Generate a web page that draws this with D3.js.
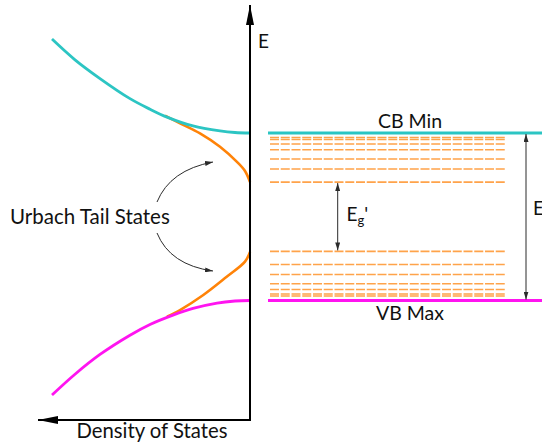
<!DOCTYPE html>
<html>
<head>
<meta charset="utf-8">
<script src="https://cdn.jsdelivr.net/npm/d3@7"></script>
<style>
  html, body { margin: 0; padding: 0; background: #fff; }
  svg { display: block; }
  text { font-family: Lato, "Open Sans", sans-serif; fill: #111; }
</style>
</head>
<body>
<svg id="chart" width="542" height="443"></svg>
<script>
// Density of states (arbitrary units) vs. energy (VB max = 0, CB min = 1)
const cbDos   = [[0, 1.0], [15, 1.003], [30, 1.0125], [57, 1.042], [83, 1.095], [100, 1.142], [120, 1.205], [150, 1.325], [175, 1.437], [198, 1.561]];
const vbDos   = [[0, 0.0], [15, -0.003], [33, -0.015], [57, -0.047], [77, -0.087], [100, -0.143], [120, -0.207], [150, -0.322], [175, -0.44], [198, -0.564]];
const cbTail  = [[85, 1.103], [70, 1.058], [50, 0.998], [30, 0.918], [13.3, 0.829], [5, 0.773], [0, 0.707]];
const vbTail  = [[83, -0.097], [70, -0.057], [46.7, 0.033], [23.3, 0.142], [5, 0.232], [0, 0.29]];

// Localised tail-state energy levels below the CB and above the VB
const cbTailLevels = [0.973, 0.961, 0.934, 0.900, 0.845, 0.785, 0.707];
const vbTailLevels = [0.027, 0.039, 0.066, 0.100, 0.155, 0.215, 0.293];

const bandEdges = { cb: 1.0, vb: 0.0 };

const svg = d3.select("#chart");

const x = d3.scaleLinear().domain([0, 200]).range([250, 50]);   // density grows to the left
const y = d3.scaleLinear().domain([0, 1]).range([300.5, 133]);   // energy

const colors = { cb: "#2cc5c3", vb: "#ff14f0", tail: "#ff8308", level: "#ffa34a", arrow: "#2b2b2b" };

// arrowhead markers
const defs = svg.append("defs");
function marker(id, w, h, color) {
  defs.append("marker")
    .attr("id", id).attr("viewBox", `0 0 ${w} ${h}`)
    .attr("refX", w).attr("refY", h / 2)
    .attr("markerWidth", w).attr("markerHeight", h)
    .attr("markerUnits", "userSpaceOnUse")
    .attr("orient", "auto-start-reverse")
    .append("path").attr("d", `M0,0L${w},${h / 2}L0,${h}Z`).attr("fill", color);
}
marker("axisHead", 20, 8, "#000");
marker("thinHead", 8, 5, colors.arrow);

// ---- DOS curves ----
const line = d3.line().x(d => x(d[0])).y(d => y(d[1])).curve(d3.curveCatmullRom.alpha(0.5));

svg.append("path").datum(cbTail).attr("d", line)
  .attr("fill", "none").attr("stroke", colors.tail).attr("stroke-width", 2.6);
svg.append("path").datum(vbTail).attr("d", line)
  .attr("fill", "none").attr("stroke", colors.tail).attr("stroke-width", 2.6);
svg.append("path").datum(cbDos).attr("d", line)
  .attr("fill", "none").attr("stroke", colors.cb).attr("stroke-width", 2.8);
svg.append("path").datum(vbDos).attr("d", line)
  .attr("fill", "none").attr("stroke", colors.vb).attr("stroke-width", 2.8);

// ---- axes ----
const x0 = x(0), yBase = 420;
svg.append("line").attr("x1", x0).attr("y1", yBase + 1).attr("x2", x0).attr("y2", 5)
  .attr("stroke", "#000").attr("stroke-width", 2).attr("marker-end", "url(#axisHead)");
svg.append("line").attr("x1", x0 + 1).attr("y1", yBase).attr("x2", 38).attr("y2", yBase)
  .attr("stroke", "#000").attr("stroke-width", 2).attr("marker-end", "url(#axisHead)");

svg.append("text").attr("x", 258).attr("y", 48).attr("font-size", 19).text("E");
svg.append("text").attr("x", 152).attr("y", 438).attr("text-anchor", "middle")
  .attr("font-size", 20.3).text("Density of States");

// ---- Urbach tail annotation ----
svg.append("text").attr("x", 10).attr("y", 224).attr("font-size", 20.5).text("Urbach Tail States");
svg.append("path").attr("d", "M157,202 Q170,170 213,162")
  .attr("fill", "none").attr("stroke", colors.arrow).attr("stroke-width", 1)
  .attr("marker-end", "url(#thinHead)");
svg.append("path").attr("d", "M157,233 Q170,265 213,271")
  .attr("fill", "none").attr("stroke", colors.arrow).attr("stroke-width", 1)
  .attr("marker-end", "url(#thinHead)");

// ---- band diagram ----
const bx0 = 268, bx1 = 545, lx0 = 270, lx1 = 506;

svg.selectAll("line.level")
  .data(cbTailLevels.concat(vbTailLevels))
  .join("line").attr("class", "level")
  .attr("x1", lx0).attr("x2", lx1)
  .attr("y1", d => y(d)).attr("y2", d => y(d))
  .attr("stroke", colors.level).attr("stroke-width", 1.6)
  .attr("stroke-dasharray", "9,1.75");

svg.append("line").attr("x1", bx0).attr("x2", bx1)
  .attr("y1", y(bandEdges.cb)).attr("y2", y(bandEdges.cb))
  .attr("stroke", colors.cb).attr("stroke-width", 2.8);
svg.append("line").attr("x1", bx0).attr("x2", bx1)
  .attr("y1", y(bandEdges.vb)).attr("y2", y(bandEdges.vb))
  .attr("stroke", colors.vb).attr("stroke-width", 2.8);

svg.append("text").attr("x", 410).attr("y", 128).attr("text-anchor", "middle")
  .attr("font-size", 19.5).text("CB Min");
svg.append("text").attr("x", 410).attr("y", 320).attr("text-anchor", "middle")
  .attr("font-size", 19.5).text("VB Max");

// gap arrows
function gapArrow(xp, eTop, eBot) {
  svg.append("line").attr("x1", xp).attr("x2", xp)
    .attr("y1", y(eTop) + 1).attr("y2", y(eBot) - 1)
    .attr("stroke", colors.arrow).attr("stroke-width", 1)
    .attr("marker-start", "url(#thinHead)").attr("marker-end", "url(#thinHead)");
}
gapArrow(526, bandEdges.cb, bandEdges.vb);
gapArrow(337.7, cbTailLevels[cbTailLevels.length - 1], vbTailLevels[vbTailLevels.length - 1]);

const eg1 = svg.append("text").attr("x", 346.5).attr("y", 221).attr("font-size", 19);
eg1.append("tspan").text("E");
eg1.append("tspan").attr("font-size", 13).attr("dy", 4).text("g");
eg1.append("tspan").attr("dy", -4).text("'");

const eg = svg.append("text").attr("x", 533).attr("y", 215).attr("font-size", 19);
eg.append("tspan").text("E");
eg.append("tspan").attr("font-size", 13).attr("dy", 4).text("g");
</script>
</body>
</html>
